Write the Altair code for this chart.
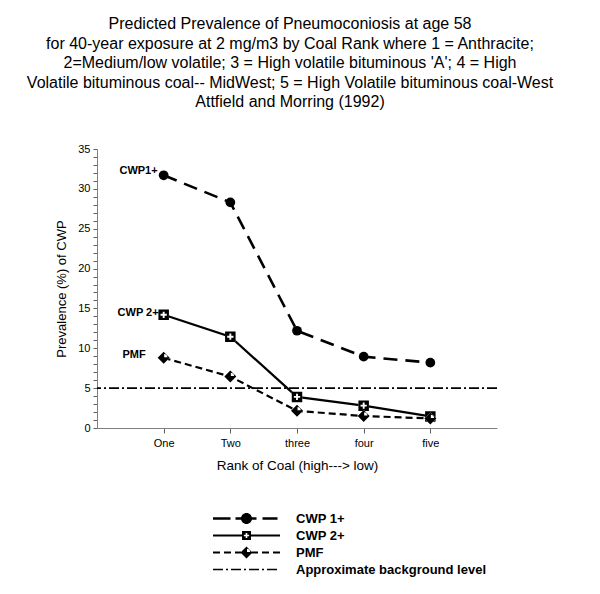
import altair as alt
import pandas as pd

# ---------------- data ----------------
ranks = [1, 2, 3, 4, 5]
rank_labels = ["One", "Two", "three", "four", "five"]
cwp1 = [31.7, 28.3, 12.2, 8.95, 8.2]
cwp2 = [14.2, 11.45, 3.9, 2.8, 1.45]
pmf = [8.8, 6.45, 2.15, 1.5, 1.2]
background = [5.0]
series_names = ["CWP 1+", "CWP 2+", "PMF", "Approximate background level"]
annot_labels = ["CWP1+", "CWP 2+", "PMF"]

title_lines = [
    "Predicted Prevalence of Pneumoconiosis at age 58" + "\u00a0" * 10,
    "for 40-year exposure at 2 mg/m3 by Coal Rank where 1 = Anthracite;",
    "2=Medium/low volatile; 3 = High volatile bituminous 'A'; 4 = High",
    "Volatile bituminous coal-- MidWest; 5 = High Volatile bituminous coal-West",
    "Attfield and Morring (1992)",
]

FONT = "Liberation Sans"

df1 = pd.DataFrame({"rank": ranks, "value": cwp1})
df2 = pd.DataFrame({"rank": ranks, "value": cwp2})
df3 = pd.DataFrame({"rank": ranks, "value": pmf})
dfbg = pd.DataFrame({"value": background})
dflab1 = pd.DataFrame({"rank": [ranks[0]], "value": [cwp1[0]], "label": [annot_labels[0]]})
dflab2 = pd.DataFrame({"rank": [ranks[0]], "value": [cwp2[0]], "label": [annot_labels[1]]})
dflab3 = pd.DataFrame({"rank": [ranks[0]], "value": [pmf[0]], "label": [annot_labels[2]]})
dfleg = pd.DataFrame({"series": series_names})

# ---------------- helper shapes (styling only) ----------------
def f(v):
    return f"{v:.4f}".rstrip("0").rstrip(".")

def rect(x0, x1, h, u):
    return f"M{f(x0/u)},{f(-h/u)}H{f(x1/u)}V{f(h/u)}H{f(x0/u)}Z"

def circle(r, u):
    r = r / u
    return f"M{f(-r)},0A{f(r)},{f(r)} 0 1 1 {f(r)},0A{f(r)},{f(r)} 0 1 1 {f(-r)},0Z"

def diamond(r, u):
    r = r / u
    return f"M0,{f(-r)}L{f(r)},0L0,{f(r)}L{f(-r)},0Z"

def square(r, u):
    r = r / u
    return f"M{f(-r)},{f(-r)}H{f(r)}V{f(r)}H{f(-r)}Z"

def cross_hole(a, b, u):
    a, b = a / u, b / u
    pts = [(-a, -b), (-a, -a), (-b, -a), (-b, a), (-a, a), (-a, b),
           (a, b), (a, a), (b, a), (b, -a), (a, -a), (a, -b)]
    return "M" + "L".join(f"{f(x)},{f(y)}" for x, y in pts) + "Z"

def sector_hole(cx, cy, r, u):
    cx, cy, r = cx / u, cy / u, r / u
    return (f"M{f(cx)},{f(cy)}L{f(cx + r)},{f(cy)}"
            f"A{f(r)},{f(r)} 0 0 0 {f(cx)},{f(cy - r)}Z")

# chart markers
U_SQ = 5.0   # size 100 -> 10px
U_DI = 6.0   # size 144 -> 12px
sq_path = square(5, U_SQ) + cross_hole(0.9, 3.0, U_SQ)
di_path = diamond(6, U_DI) + sector_hole(0.5, -0.5, 3.3, U_DI)

# legend symbols (size 144 -> unit 6px, drawn wider than the unit box)
UL = 6.0
leg_cwp1 = (rect(-33.5, -16, 1.3, UL) + rect(-11, 10, 1.3, UL) + rect(16, 31, 1.3, UL)
            + circle(5.5, UL))
leg_cwp2 = (rect(-33.5, -4.5, 1.1, UL) + rect(4.5, 33.5, 1.1, UL)
            + square(4.5, UL) + cross_hole(0.8, 2.6, UL))
leg_pmf = ("".join(rect(a, b, 1.1, UL) for a, b in
                   [(-33.5, -26.5), (-22.5, -15.5), (-11.5, -5.5),
                    (5.5, 11.5), (15.5, 22.5), (26.5, 33.5)])
           + diamond(6, UL) + sector_hole(0.5, -0.5, 3.3, UL))
leg_bg = "".join(rect(a, b, 0.8, UL) for a, b in
                 [(-33.5, -23.5), (-20.5, -18.5), (-15.5, -5.5), (-2.5, -0.5),
                  (2.5, 12.5), (15.5, 17.5), (20.5, 30.5)])

# ---------------- scales / axes ----------------
label_expr = "[" + ",".join(f"'{s}'" for s in rank_labels) + "][datum.value - 1]"

xenc = alt.X(
    "rank:Q",
    scale=alt.Scale(domain=[0, 6], nice=False, zero=False),
    axis=alt.Axis(
        values=ranks, labelExpr=label_expr, title="Rank of Coal (high---> low)",
        grid=False, tickSize=5, labelPadding=4, labelFontSize=11,
        titleFontSize=13.5, titleFontWeight="normal", titlePadding=10,
        domainColor="#808080", tickColor="#606060", labelColor="black",
        titleColor="black",
    ),
)
yenc = alt.Y(
    "value:Q",
    scale=alt.Scale(domain=[0, 35], nice=False),
    axis=alt.Axis(
        values=list(range(0, 36)),
        labelExpr="datum.value % 5 === 0 ? datum.value : ''",
        title="Prevalence (%) of CWP", grid=False, tickSize=4, labelPadding=3,
        labelFontSize=11, titleFontSize=13, titleFontWeight="normal",
        titlePadding=9, domainColor="#808080", tickColor="#606060",
        labelColor="black", titleColor="black",
    ),
)

bg = alt.Chart(dfbg).mark_rule(
    color="black", strokeWidth=1.6, strokeDash=[10, 3, 2, 3]
).encode(y=yenc)

line1 = alt.Chart(df1).mark_line(
    color="black", strokeWidth=2.6, strokeDash=[14, 8]
).encode(x=xenc, y=yenc)
line2 = alt.Chart(df2).mark_line(color="black", strokeWidth=2.2).encode(x=xenc, y=yenc)
line3 = alt.Chart(df3).mark_line(
    color="black", strokeWidth=2.2, strokeDash=[7, 4]
).encode(x=xenc, y=yenc)

pts1 = alt.Chart(df1).mark_point(
    shape="circle", filled=True, color="black", size=95, opacity=1
).encode(x=xenc, y=yenc)
pts2w = alt.Chart(df2).mark_point(
    shape="square", filled=True, color="white", size=110, opacity=1
).encode(x=xenc, y=yenc)
pts2 = alt.Chart(df2).mark_point(
    shape=sq_path, filled=True, color="black", size=110, opacity=1
).encode(x=xenc, y=yenc)
pts3w = alt.Chart(df3).mark_point(
    shape="diamond", filled=True, color="white", size=144, opacity=1
).encode(x=xenc, y=yenc)
pts3 = alt.Chart(df3).mark_point(
    shape=di_path, filled=True, color="black", size=144, opacity=1
).encode(x=xenc, y=yenc)

def annot(d, dx, dy):
    return alt.Chart(d).mark_text(
        align="right", baseline="middle", dx=dx, dy=dy, fontSize=11,
        fontWeight="bold", font=FONT, color="black"
    ).encode(x=xenc, y=yenc, text="label:N")

t1 = annot(dflab1, -6, -4)
t2 = annot(dflab2, -5, -2)
t3 = annot(dflab3, -18, -3)

legend_layer = alt.Chart(dfleg).mark_point(
    filled=True, color="black", size=144, opacity=0
).encode(
    shape=alt.Shape(
        "series:N",
        scale=alt.Scale(domain=series_names, range=[leg_cwp1, leg_cwp2, leg_pmf, leg_bg]),
        legend=alt.Legend(
            title=None, orient="none", legendX=143, legendY=363, padding=0,
            symbolSize=144, symbolFillColor="black", symbolStrokeWidth=0,
            symbolOpacity=1, labelFont=FONT, labelFontSize=13,
            labelFontWeight="bold", labelColor="black", labelOffset=43,
            rowPadding=3, labelLimit=400,
        ),
    )
)

chart = alt.layer(
    bg, line1, line2, line3, pts1, pts2w, pts2, pts3w, pts3, t1, t2, t3, legend_layer
).properties(
    width=400,
    height=279,
    padding={"left": 89, "top": 141, "right": 95, "bottom": 158},
    autosize=alt.AutoSizeParams(type="none"),
    title=alt.TitleParams(
        text=title_lines, font=FONT, fontSize=16, fontWeight="normal",
        color="black", lineHeight=19.5, anchor="middle", dx=-7, offset=33,
        frame="group",
    ),
).configure(font=FONT).configure_view(stroke=None)

chart.save("out.html", embed_options={"renderer": "svg", "actions": False})
